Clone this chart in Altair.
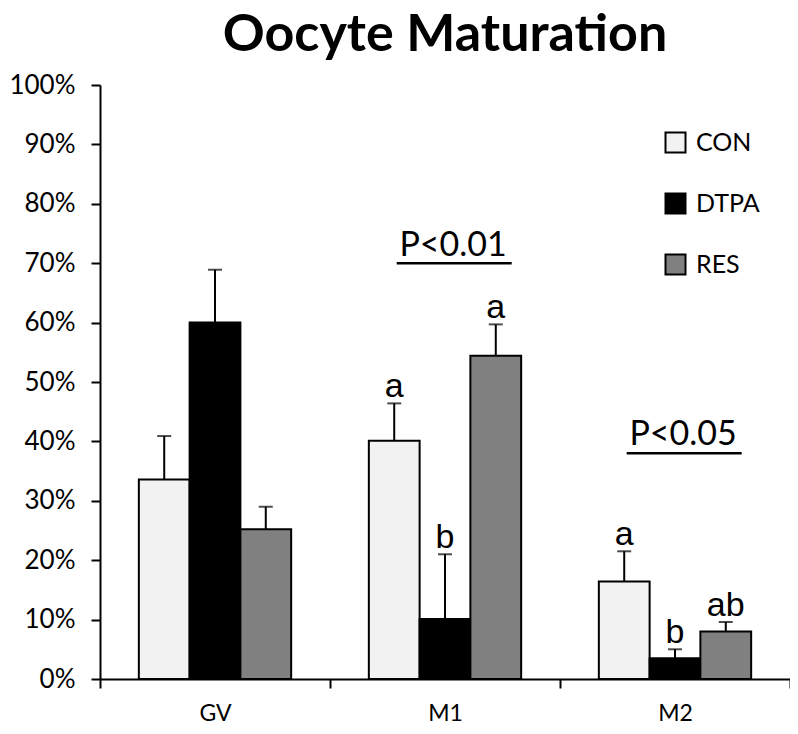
import altair as alt
import pandas as pd

stages = ["GV", "M1", "M2"]
groups = ["CON", "DTPA", "RES"]
colors = ["#f2f2f2", "#000000", "#808080"]

mean_con = [0.336, 0.401, 0.164]
mean_dtpa = [0.600, 0.101, 0.035]
mean_res = [0.252, 0.544, 0.080]

sem_con = [0.073, 0.063, 0.051]
sem_dtpa = [0.089, 0.109, 0.015]
sem_res = [0.038, 0.053, 0.016]

letters_con = ["", "a", "a"]
letters_dtpa = ["", "b", "b"]
letters_res = ["", "a", "ab"]

p_stage = ["M1", "M2"]
p_label = ["P<0.01", "P<0.05"]
p_text_y = [0.712, 0.394]
p_line_y = [0.700, 0.380]

rows = []
for g, means, sems, lets in [
    ("CON", mean_con, sem_con, letters_con),
    ("DTPA", mean_dtpa, sem_dtpa, letters_dtpa),
    ("RES", mean_res, sem_res, letters_res),
]:
    for s, m, e, l in zip(stages, means, sems, lets):
        rows.append({"stage": s, "group": g, "mean": m, "upper": m + e, "letter": l})
df = pd.DataFrame(rows)
ann = pd.DataFrame({"stage": p_stage, "label": p_label, "ty": p_text_y, "uy": p_line_y})

xscale = alt.Scale(domain=stages, paddingInner=0, paddingOuter=0)
xoff = alt.XOffset("group:N", scale=alt.Scale(domain=groups, paddingInner=0, paddingOuter=0.765))
yscale = alt.Scale(domain=[0, 1])

base = alt.Chart(df).encode(
    x=alt.X("stage:N", scale=xscale, title=None, sort=stages),
    xOffset=xoff,
)

bars = base.mark_bar(stroke="black", strokeWidth=2).encode(
    y=alt.Y("mean:Q", scale=yscale, title=None,
            axis=alt.Axis(values=[i / 10 for i in range(11)], format=".0%")),
    color=alt.Color("group:N", scale=alt.Scale(domain=groups, range=colors),
                    legend=alt.Legend(title=None, orient="none", legendX=563, legendY=45,
                                      symbolType="square", symbolSize=400,
                                      symbolStrokeColor="black", symbolStrokeWidth=2,
                                      labelFont="Lato", labelFontSize=25, labelColor="black",
                                      rowPadding=32, labelOffset=8, padding=0)),
)

rules = base.mark_rule(color="black", strokeWidth=2).encode(
    y=alt.Y("mean:Q", scale=yscale), y2="upper:Q"
)
caps = base.mark_tick(orient="horizontal", size=14, thickness=2, color="black").encode(
    y=alt.Y("upper:Q", scale=yscale)
)
lets = base.transform_filter(alt.datum.letter != "").mark_text(
    font="Liberation Sans", fontSize=34, baseline="alphabetic", dy=-6, color="black"
).encode(y=alt.Y("upper:Q", scale=yscale), text="letter:N")

ptext = alt.Chart(ann).mark_text(
    font="Lato", fontSize=34, baseline="alphabetic", align="center", color="black"
).encode(
    x=alt.X("stage:N", scale=xscale, bandPosition=0.535, title=None),
    y=alt.Y("ty:Q", scale=yscale),
    text="label:N",
)
pline = alt.Chart(ann).mark_rule(color="black", strokeWidth=2.5).encode(
    x=alt.X("stage:N", scale=xscale, bandPosition=0.29, title=None),
    x2=alt.X2("stage:N", bandPosition=0.79),
    y=alt.Y("uy:Q", scale=yscale),
)

chart = alt.layer(bars, rules, caps, lets, ptext, pline).properties(
    width=690, height=594,
    title=alt.Title("Oocyte Maturation", font="Lato", fontWeight="bold", fontSize=52,
                    anchor="middle", color="black", offset=10),
    autosize=alt.AutoSizeParams(type="none"),
    padding={"left": 92, "top": 77, "right": 0, "bottom": 47},
).configure_view(stroke=None).configure_axisX(
    labelFont="Lato", labelFontSize=23, labelColor="black", labelAngle=0, labelPadding=14,
    domainColor="black", domainWidth=2, tickColor="black", tickWidth=2, tickSize=9,
    tickBand="extent", grid=False,
).configure_axisY(
    labelFont="Lato", labelFontSize=26, labelColor="black", labelPadding=16,
    domainColor="black", domainWidth=2, tickColor="black", tickWidth=2, tickSize=9,
    grid=False,
)

chart.save("out.html", embed_options={"renderer": "svg", "actions": False})
